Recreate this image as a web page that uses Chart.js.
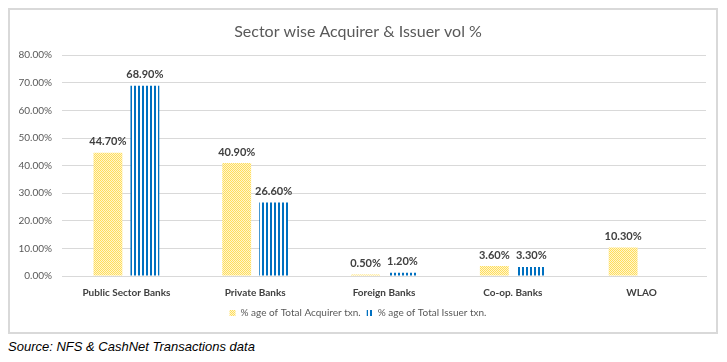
<!DOCTYPE html>
<html>
<head>
<meta charset="utf-8">
<script src="https://cdn.jsdelivr.net/npm/chart.js@4"></script>
<style>
  body { margin: 0; background: #fff; width: 727px; height: 362px; position: relative; overflow: hidden; }
  #box { position: absolute; left: 8px; top: 8px; width: 706px; height: 322px; border: 2px solid #D9D9D9; }
  #src { position: absolute; left: 8px; top: 339px; font: italic 13px "Liberation Sans", Arial, sans-serif; color: #000; }
</style>
</head>
<body>
<div id="box"><canvas id="myChart" width="706" height="322"></canvas></div>
<div id="src">Source: NFS &amp; CashNet Transactions data</div>
<script>
const categories = ['Public Sector Banks', 'Private Banks', 'Foreign Banks', 'Co-op. Banks', 'WLAO'];
const acquirerVol = [44.7, 40.9, 0.5, 3.6, 10.3];
const issuerVol = [68.9, 26.6, 1.2, 3.3, null];
const yTicks = [0, 10, 20, 30, 40, 50, 60, 70, 80];

const ctx = document.getElementById('myChart');

// yellow dotted fill like the excel pattern
function yellowPattern() {
    var c = document.createElement('canvas');
    c.width = 4; c.height = 4;
    var g = c.getContext('2d');
    g.fillStyle = '#FFF5CF';
    g.fillRect(0, 0, 4, 4);
    g.fillStyle = '#FFDE5C';
    for (var x = 0; x < 4; x++) {
        for (var y = 0; y < 4; y++) {
            if ((x + y) % 2 == 0) g.fillRect(x, y, 1, 1);
        }
    }
    return g.createPattern(c, 'repeat');
}

// blue vertical stripes
function bluePattern() {
    var c = document.createElement('canvas');
    c.width = 4; c.height = 4;
    var g = c.getContext('2d');
    g.fillStyle = '#ffffff';
    g.fillRect(0, 0, 4, 4);
    g.fillStyle = '#0070C0';
    g.fillRect(0, 0, 2, 4);
    return g.createPattern(c, 'repeat');
}

const valueLabels = {
    id: 'valueLabels',
    afterDatasetsDraw(chart) {
        const c = chart.ctx;
        c.save();
        c.font = 'bold 11px Lato';
        c.fillStyle = '#404040';
        c.textAlign = 'center';
        c.textBaseline = 'middle';
        chart.data.datasets.forEach((ds, i) => {
            chart.getDatasetMeta(i).data.forEach((bar, j) => {
                const v = ds.data[j];
                if (v === null) return;
                c.fillText(v.toFixed(2) + '%', bar.x, bar.y - 11);
            });
        });
        c.restore();
    }
};

var myChart = new Chart(ctx, {
    type: 'bar',
    data: {
        labels: categories,
        datasets: [
            {
                label: '% age of Total Acquirer txn.',
                data: acquirerVol,
                backgroundColor: yellowPattern()
            },
            {
                label: '% age of Total Issuer txn.',
                data: issuerVol,
                backgroundColor: bluePattern()
            }
        ]
    },
    options: {
        responsive: false,
        animation: false,
        categoryPercentage: 0.574,
        barPercentage: 0.78,
        layout: { padding: { left: 0, right: 10, top: 8, bottom: 4 } },
        scales: {
            x: {
                grid: { display: false },
                border: { color: '#D9D9D9' },
                ticks: {
                    color: '#404040',
                    font: { family: 'Lato', size: 10, weight: 'bold' },
                    padding: 3
                }
            },
            y: {
                min: 0,
                max: 80,
                afterFit: (scale) => { scale.width = 52; },
                afterBuildTicks: (scale) => { scale.ticks = yTicks.map(v => ({ value: v })); },
                grid: { color: '#D9D9D9', drawTicks: false },
                border: { display: false },
                ticks: {
                    color: '#595959',
                    font: { family: 'Lato', size: 10 },
                    padding: 10,
                    callback: (v) => v.toFixed(2) + '%'
                }
            }
        },
        plugins: {
            title: {
                display: true,
                text: 'Sector wise Acquirer & Issuer vol %',
                color: '#595959',
                font: { family: 'Lato', size: 16, weight: 'normal' },
                padding: { top: 4, bottom: 14 }
            },
            legend: {
                position: 'bottom',
                labels: {
                    color: '#595959',
                    font: { family: 'Lato', size: 10 },
                    boxWidth: 6,
                    boxHeight: 6,
                    padding: 6
                }
            },
            tooltip: { enabled: false }
        }
    },
    plugins: [valueLabels]
});
</script>
</body>
</html>
